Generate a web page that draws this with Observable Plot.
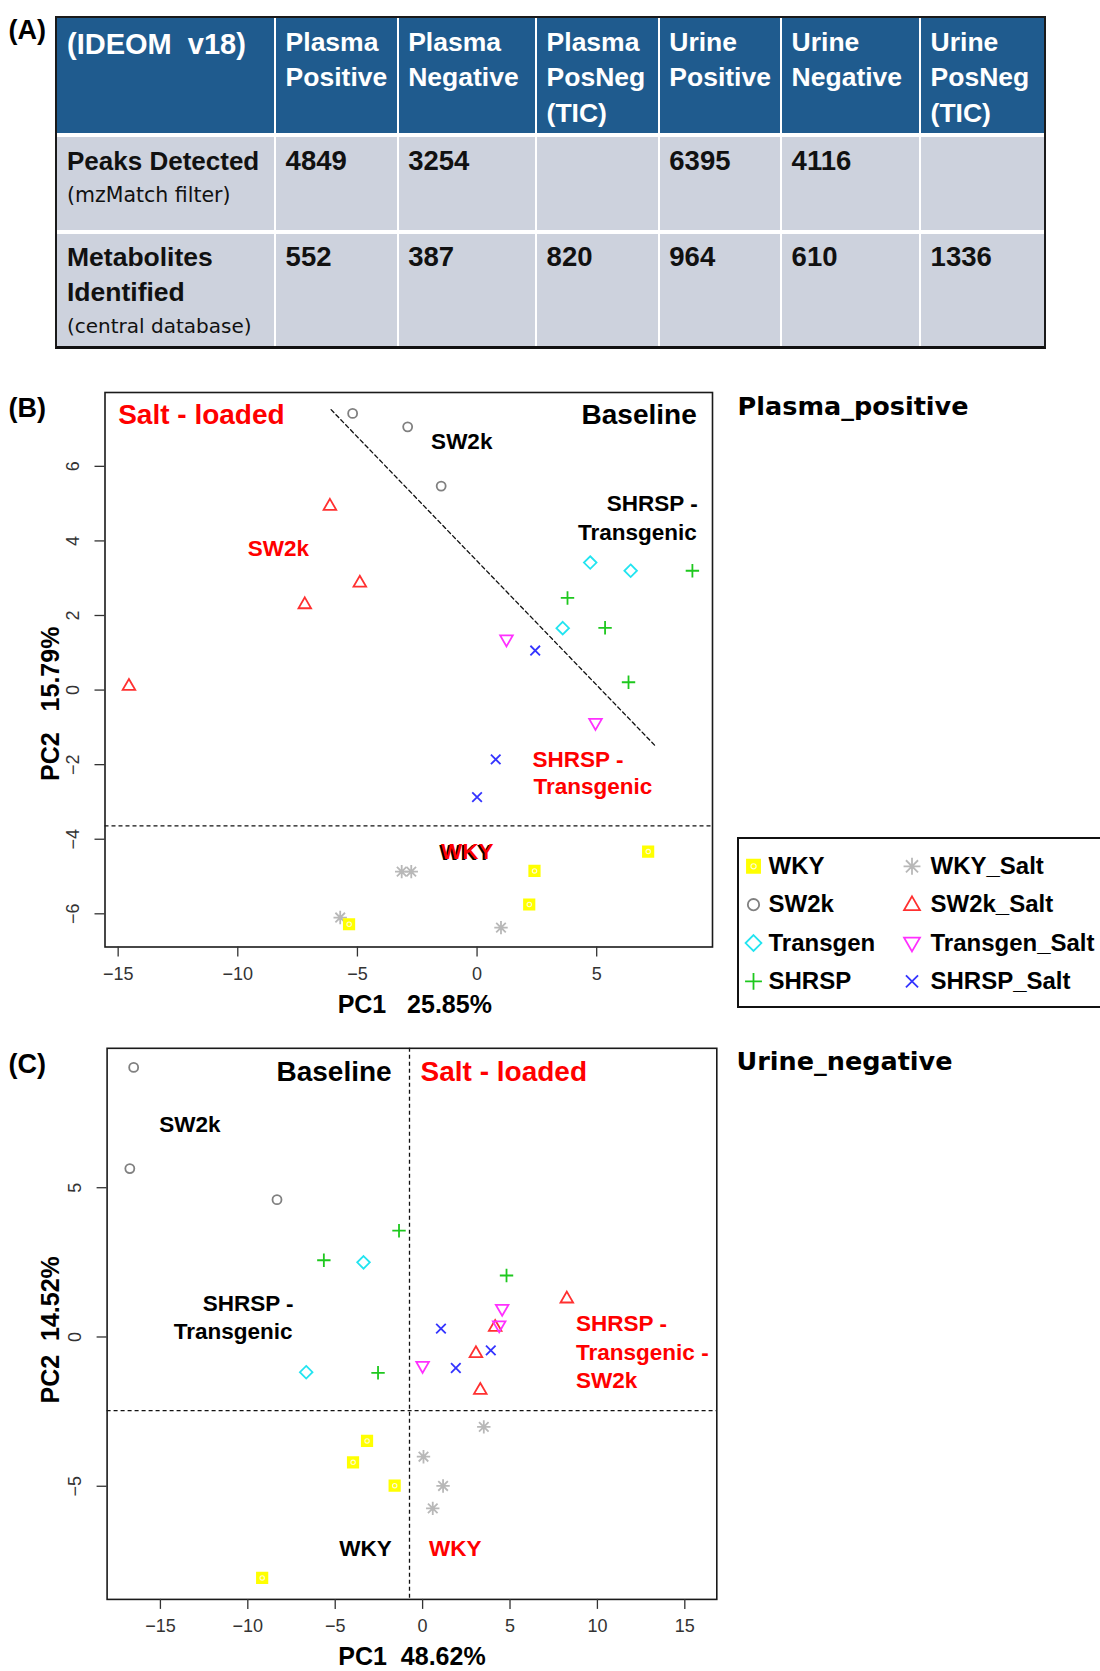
<!DOCTYPE html>
<html><head><meta charset="utf-8">
<script src="https://cdn.jsdelivr.net/npm/d3@7"></script>
<script src="https://cdn.jsdelivr.net/npm/@observablehq/plot@0.6"></script>
<style>
body{margin:0;background:#fff;}
#page{position:relative;width:1100px;height:1671px;overflow:hidden;background:#fff;font-family:"Liberation Sans",Arial,sans-serif;}
.abs{position:absolute;white-space:pre;}
</style></head><body><div id="page"></div>
<script>
// ---------------- DATA ----------------
const groups = ["WKY","SW2k","Transgen","SHRSP","WKY_Salt","SW2k_Salt","Transgen_Salt","SHRSP_Salt"];

// Table (A)
const tableCorner = "(IDEOM  v18)";
const tableColumns = ["Plasma\nPositive","Plasma\nNegative","Plasma\nPosNeg\n(TIC)","Urine\nPositive","Urine\nNegative","Urine\nPosNeg\n(TIC)"];
const rowNames = [["Peaks Detected","(mzMatch filter)"],["Metabolites\nIdentified","(central database)"]];
const peaksDetected = [4849, 3254, null, 6395, 4116, null];
const metabolitesIdentified = [552, 387, 820, 964, 610, 1336];

// Panel B: Plasma_positive  [PC1, PC2]
const plasmaWKY = [[7.15,-4.33],[2.4,-4.85],[2.18,-5.75],[-5.35,-6.28]];
const plasmaSW2k = [[-5.2,7.42],[-2.9,7.06],[-1.5,5.47]];
const plasmaTransgen = [[4.73,3.42],[6.42,3.2],[3.58,1.66]];
const plasmaSHRSP = [[9.0,3.2],[3.78,2.47],[5.35,1.67],[6.33,0.21]];
const plasmaWKYSalt = [[-3.15,-4.87],[-2.75,-4.87],[-5.72,-6.1],[1.0,-6.37]];
const plasmaSW2kSalt = [[-6.15,4.95],[-4.9,2.89],[-7.2,2.31],[-14.55,0.12]];
const plasmaTransgenSalt = [[1.23,1.35],[4.95,-0.89]];
const plasmaSHRSPSalt = [[2.43,1.06],[0.78,-1.86],[0.0,-2.87]];
const plasmaDiagonal = [[-6.1,7.52],[7.5,-1.53]];
const plasmaHorizontal = [-3.64];
const plasmaXTicks = [-15,-10,-5,0,5];
const plasmaYTicks = [-6,-4,-2,0,2,4,6];
const plasmaLabels = [
  {text:"Salt - loaded", x:-15.0, y:7.37, color:"red", kind:"head", anchor:"start"},
  {text:"Baseline", x:9.18, y:7.37, color:"black", kind:"head", anchor:"end"},
  {text:"SW2k", x:-1.92, y:6.66, color:"black", kind:"group", anchor:"start"},
  {text:"SHRSP -", x:9.22, y:5.0, color:"black", kind:"group", anchor:"end"},
  {text:"Transgenic", x:9.18, y:4.23, color:"black", kind:"group", anchor:"end"},
  {text:"SW2k", x:-9.58, y:3.8, color:"red", kind:"group", anchor:"start"},
  {text:"SHRSP -", x:2.32, y:-1.86, color:"red", kind:"group", anchor:"start"},
  {text:"Transgenic", x:2.36, y:-2.6, color:"red", kind:"group", anchor:"start"},
  {text:"WKY", x:-1.51, y:-4.34, color:"red", kind:"group", anchor:"start", shadow:true}
];

// Panel C: Urine_negative  [PC1, PC2]
const urineWKY = [[-3.18,-3.48],[-3.98,-4.2],[-1.6,-4.98],[-9.18,-8.07]];
const urineSW2k = [[-16.53,9.03],[-16.75,5.64],[-8.33,4.6]];
const urineTransgen = [[-3.38,2.5],[-6.66,-1.18]];
const urineSHRSP = [[-1.35,3.56],[-5.65,2.57],[4.8,2.06],[-2.55,-1.2]];
const urineWKYSalt = [[3.5,-3.01],[0.05,-4.01],[1.17,-4.99],[0.58,-5.74]];
const urineSW2kSalt = [[8.25,1.3],[4.15,0.35],[3.05,-0.53],[3.3,-1.76]];
const urineTransgenSalt = [[4.55,0.93],[4.38,0.38],[0.0,-0.98]];
const urineSHRSPSalt = [[1.05,0.28],[3.9,-0.45],[1.9,-1.04]];
const urineVertical = [-0.75];
const urineHorizontal = [-2.47];
const urineXTicks = [-15,-10,-5,0,5,10,15];
const urineYTicks = [-5,0,5];
const urineLabels = [
  {text:"Baseline", x:-1.77, y:8.86, color:"black", kind:"head", anchor:"end"},
  {text:"Salt - loaded", x:-0.12, y:8.86, color:"red", kind:"head", anchor:"start"},
  {text:"SW2k", x:-15.06, y:7.11, color:"black", kind:"group", anchor:"start"},
  {text:"SHRSP -", x:-7.38, y:1.11, color:"black", kind:"group", anchor:"end"},
  {text:"Transgenic", x:-7.44, y:0.18, color:"black", kind:"group", anchor:"end"},
  {text:"SHRSP -", x:8.78, y:0.43, color:"red", kind:"group", anchor:"start"},
  {text:"Transgenic -", x:8.78, y:-0.54, color:"red", kind:"group", anchor:"start"},
  {text:"SW2k", x:8.78, y:-1.46, color:"red", kind:"group", anchor:"start"},
  {text:"WKY", x:-1.77, y:-7.11, color:"black", kind:"group", anchor:"end"},
  {text:"WKY", x:0.37, y:-7.11, color:"red", kind:"group", anchor:"start"}
];

// ---------------- STYLE ----------------
const groupColors = ["#ffff00","#808080","#22e4f0","#1ec81e","#b8b8b8","#ff3030","#ff30ff","#3434ff"];
const K = s => Math.sqrt(s / Math.PI) / 5;
const SYM = {
  square:{draw(c,s){const k=K(s)*5.2;c.moveTo(-k,-k);c.lineTo(k,-k);c.lineTo(k,k);c.lineTo(-k,k);c.closePath();}},
  circle:{draw(c,s){const k=K(s)*4.5;c.moveTo(k,0);c.arc(0,0,k,0,2*Math.PI);}},
  diamond:{draw(c,s){const k=K(s)*6.3;c.moveTo(0,-k);c.lineTo(k,0);c.lineTo(0,k);c.lineTo(-k,0);c.closePath();}},
  plus:{draw(c,s){const k=K(s)*6.7;c.moveTo(-k,0);c.lineTo(k,0);c.moveTo(0,-k);c.lineTo(0,k);}},
  asterisk:{draw(c,s){const a=K(s)*6.7,b=K(s)*4.8;c.moveTo(-a,0);c.lineTo(a,0);c.moveTo(0,-a);c.lineTo(0,a);c.moveTo(-b,-b);c.lineTo(b,b);c.moveTo(-b,b);c.lineTo(b,-b);}},
  triUp:{draw(c,s){const k=K(s);c.moveTo(0,-6.6*k);c.lineTo(6.3*k,4.3*k);c.lineTo(-6.3*k,4.3*k);c.closePath();}},
  triDown:{draw(c,s){const k=K(s);c.moveTo(0,6.6*k);c.lineTo(6.3*k,-4.3*k);c.lineTo(-6.3*k,-4.3*k);c.closePath();}},
  times:{draw(c,s){const b=K(s)*4.8;c.moveTo(-b,-b);c.lineTo(b,b);c.moveTo(-b,b);c.lineTo(b,-b);}}
};
const groupSymbols = [SYM.square,SYM.circle,SYM.diamond,SYM.plus,SYM.asterisk,SYM.triUp,SYM.triDown,SYM.times];
const FONT = '"Liberation Sans", Arial, sans-serif';
const fmt = d => String(d).replace("-", "\u2212");

// ---------------- HELPERS ----------------
const page = document.getElementById("page");
function div(css, text) {
  const d = document.createElement("div");
  d.className = "abs";
  d.style.cssText = css;
  if (text != null) d.textContent = text;
  page.appendChild(d);
  return d;
}
function line(x, yc, text, size, weight, color, family) {
  const lh = Math.round(size * 1.3);
  div(`left:${x}px;top:${yc - lh/2}px;line-height:${lh}px;height:${lh}px;font-size:${size}px;font-weight:${weight};color:${color};font-family:${family || FONT};`, text);
}
function toRows(lists) {
  const out = [];
  lists.forEach((arr, i) => arr.forEach(([x, y]) => out.push({g: groups[i], gi: i, x, y})));
  return out;
}

// ---------------- TABLE (A) ----------------
line(8.5, 30, "(A)", 27, "bold", "#000");
const colX = [56.5, 275, 397.6, 536, 658.7, 781, 920, 1043.5];
const rowY = [[18,133],[137,230],[234,345.5]];
div(`left:54.5px;top:16px;width:991px;height:333px;box-sizing:border-box;border:2px solid #1a1a1a;border-bottom:3px solid #111;background:#fff;`);
for (let r = 0; r < 3; r++) {
  for (let c = 0; c < 7; c++) {
    const x0 = colX[c] + (c > 0 ? 1 : 0), x1 = colX[c+1] - (c < 6 ? 1 : 0);
    div(`left:${x0}px;top:${rowY[r][0]}px;width:${x1-x0}px;height:${rowY[r][1]-rowY[r][0]}px;background:${r===0?"#1f5b8e":"#cdd2dd"};`);
  }
}
line(67, 43.7, tableCorner, 29, "bold", "#fff");
tableColumns.forEach((t, i) => {
  t.split("\n").forEach((s, k) => line(colX[i+1] + 10.6, 41.6 + k * 35.6, s, 26.5, "bold", "#fff"));
});
line(67, 161, rowNames[0][0], 26, "bold", "#111");
line(67, 195, rowNames[0][1], 20.5, "normal", "#111", '"DejaVu Sans", sans-serif');
rowNames[1][0].split("\n").forEach((s, k) => line(67, 257 + k * 35, s, 26.5, "bold", "#111"));
line(67, 326, rowNames[1][1], 20, "normal", "#111", '"DejaVu Sans", sans-serif');
peaksDetected.forEach((v, i) => { if (v != null) line(colX[i+1] + 10.6, 161, String(v), 27.5, "bold", "#111"); });
metabolitesIdentified.forEach((v, i) => line(colX[i+1] + 10.6, 257, String(v), 27.5, "bold", "#111"));

// ---------------- SCATTER ----------------
function scatter(o) {
  const marks = [];
  (o.rulesY || []).forEach(v => marks.push(Plot.ruleY([v], {stroke:"#111", strokeWidth:1.3, strokeDasharray:"4,3"})));
  (o.rulesX || []).forEach(v => marks.push(Plot.ruleX([v], {stroke:"#111", strokeWidth:1.3, strokeDasharray:"4,3"})));
  if (o.seg) marks.push(Plot.line(o.seg, {x: d => d[0], y: d => d[1], stroke:"#111", strokeWidth:1.3, strokeDasharray:"4,3"}));
  const order = [4,5,6,7,0,1,2,3];
  order.forEach(i => {
    const data = o.pts.filter(p => p.gi === i);
    marks.push(Plot.dot(data, {x:"x", y:"y", r:5, symbol: groupSymbols[i], stroke: groupColors[i], fill: i === 0 ? groupColors[0] : "none", strokeWidth: 1.8}));
    if (i === 0) marks.push(Plot.dot(data, {x:"x", y:"y", r:2.2, stroke:"#fffbd8", strokeWidth:1.1, fill:"none"}));
  });
  o.labels.forEach(l => {
    const base = {x:"x", y:"y", text:"text", fontSize: l.kind === "head" ? 28 : 22.5, fontWeight:"bold", textAnchor: l.anchor, lineAnchor:"middle"};
    if (l.shadow) marks.push(Plot.text([l], {...base, fill:"#000", dx:-1.6, dy:1.2}));
    marks.push(Plot.text([l], {...base, fill: l.color === "red" ? "#ff0000" : "#000"}));
  });
  marks.push(Plot.frame({stroke:"#1a1a1a", strokeWidth:1.6}));
  marks.push(Plot.axisX({ticks: o.xTicks, tickSize:10, tickPadding:10, fontSize:18, tickFormat: fmt, label:null, color:"#333", strokeWidth:1.3}));
  marks.push(Plot.axisY({ticks: o.yTicks, tickSize:10, tickFormat: () => "", label:null, color:"#333", strokeWidth:1.3}));
  marks.push(Plot.text(o.yTicks, {y: d => d, text: fmt, frameAnchor:"left", dx:-32, rotate:-90, textAnchor:"middle", lineAnchor:"middle", fontSize:18, fill:"#333"}));
  marks.push(Plot.text([o.xTitle], {text: d => d, frameAnchor:"bottom", dx:o.xTitleDx, dy:58, textAnchor:"middle", lineAnchor:"middle", fontSize:25, fontWeight:"bold", fill:"#000"}));
  marks.push(Plot.text([o.yTitle], {text: d => d, frameAnchor:"left", dx:o.yTitleDx, dy:o.yTitleDy, rotate:-90, textAnchor:"middle", lineAnchor:"middle", fontSize:25, fontWeight:"bold", fill:"#000"}));
  const svg = Plot.plot({
    width:o.W, height:o.H, marginTop:o.mt, marginRight:o.mr, marginBottom:o.mb, marginLeft:o.ml,
    x:{domain:o.xDomain}, y:{domain:o.yDomain},
    style:{fontFamily:FONT, background:"none", overflow:"visible"},
    marks
  });
  svg.style.position = "absolute";
  svg.style.left = o.left + "px";
  svg.style.top = o.top + "px";
  page.appendChild(svg);
}

// Panel B
line(8.5, 408, "(B)", 27, "bold", "#000");
line(737.6, 406, "Plasma_positive", 25.5, "bold", "#000", '"DejaVu Sans", sans-serif');
scatter({
  pts: toRows([plasmaWKY, plasmaSW2k, plasmaTransgen, plasmaSHRSP, plasmaWKYSalt, plasmaSW2kSalt, plasmaTransgenSalt, plasmaSHRSPSalt]),
  xDomain:[-15.55, 9.84], yDomain:[-6.89, 7.98], xTicks:plasmaXTicks, yTicks:plasmaYTicks,
  rulesY: plasmaHorizontal, seg: plasmaDiagonal, labels: plasmaLabels,
  xTitle:"PC1\u00a0\u00a0\u00a025.85%", yTitle:"PC2\u00a0\u00a0\u00a015.79%",
  xTitleDx:6, yTitleDx:-54.5, yTitleDy:34,
  W:730, H:660, mt:22, mr:18, mb:83.5, ml:104.5, left:0, top:370
});

// Legend
(function(){
  const box = div(`left:736.5px;top:836.7px;width:380px;height:171.3px;box-sizing:border-box;border:2px solid #111;`);
  const items = groups.map((g, i) => ({g, i, col: i < 4 ? 0 : 1, row: i % 4}));
  const marks = [];
  items.forEach(it => {
    marks.push(Plot.dot([it], {x:"col", y:"row", r:6.3, symbol: groupSymbols[it.i], stroke: groupColors[it.i], fill: it.i === 0 ? groupColors[0] : "none", strokeWidth:1.8}));
    if (it.i === 0) marks.push(Plot.dot([it], {x:"col", y:"row", r:2.6, stroke:"#fffbd8", strokeWidth:1.1, fill:"none"}));
  });
  marks.push(Plot.text(items.filter(d => d.col === 0), {x:"col", y:"row", text:"g", dx:15, textAnchor:"start", lineAnchor:"middle", fontSize:24, fontWeight:"bold", fill:"#000"}));
  marks.push(Plot.text(items.filter(d => d.col === 1), {x:"col", y:"row", text:"g", dx:18.5, textAnchor:"start", lineAnchor:"middle", fontSize:24, fontWeight:"bold", fill:"#000"}));
  const svg = Plot.plot({
    width:376, height:167.3, marginLeft:14, marginRight:203.5, marginTop:26.8, marginBottom:25.4,
    x:{domain:[0,1], axis:null}, y:{domain:[3,0], axis:null},
    style:{fontFamily:FONT, background:"none", overflow:"visible"},
    marks
  });
  svg.style.position = "absolute"; svg.style.left = "0px"; svg.style.top = "0px";
  box.appendChild(svg);
})();

// Panel C
line(8.5, 1064, "(C)", 27, "bold", "#000");
line(736.5, 1061.6, "Urine_negative", 25.5, "bold", "#000", '"DejaVu Sans", sans-serif');
scatter({
  pts: toRows([urineWKY, urineSW2k, urineTransgen, urineSHRSP, urineWKYSalt, urineSW2kSalt, urineTransgenSalt, urineSHRSPSalt]),
  xDomain:[-18.05, 16.83], yDomain:[-8.79, 9.67], xTicks:urineXTicks, yTicks:urineYTicks,
  rulesX: urineVertical, rulesY: urineHorizontal, labels: urineLabels,
  xTitle:"PC1\u00a0\u00a048.62%", yTitle:"PC2\u00a0\u00a014.52%",
  xTitleDx:0, yTitleDx:-56.6, yTitleDy:6,
  W:730, H:641, mt:17.8, mr:13.7, mb:72.1, ml:106.6, left:0, top:1030
});
</script></body></html>
